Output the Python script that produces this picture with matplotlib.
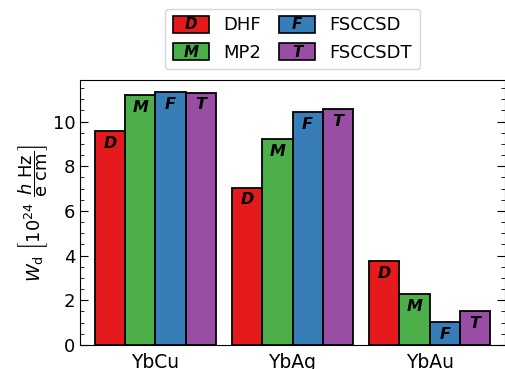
import matplotlib
matplotlib.use('Agg')
import matplotlib.pyplot as plt
import numpy as np
from matplotlib.legend_handler import HandlerPatch
from matplotlib.patches import Rectangle
from matplotlib.text import Text

matplotlib.rcParams['font.family'] = ['DejaVu Sans']
matplotlib.rcParams['mathtext.fontset'] = 'dejavusans'

# 分子体系与方法
molecules = ['YbCu', 'YbAg', 'YbAu']
methods = ['DHF', 'MP2', 'FSCCSD', 'FSCCSDT']
letters = ['D', 'M', 'F', 'T']
colors = ['#e41a1c', '#4daf4a', '#377eb8', '#984ea3']

# W_d 数值 (10^24 h Hz / e cm)
w_dhf = [9.57, 7.04, 3.74]
w_mp2 = [11.19, 9.20, 2.28]
w_fsccsd = [11.33, 10.41, 1.02]
w_fsccsdt = [11.30, 10.56, 1.52]


class LetterHandler(HandlerPatch):
    """图例色块中间写上方法缩写"""

    def __init__(self, letter):
        super().__init__()
        self.letter = letter

    def create_artists(self, legend, orig_handle, xdescent, ydescent,
                       width, height, fontsize, trans):
        rect = Rectangle((-xdescent, -ydescent), width, height,
                         facecolor=orig_handle.get_facecolor(),
                         edgecolor='black', linewidth=1.2, transform=trans)
        txt = Text(-xdescent + width / 2, -ydescent + height / 2 - 0.3, self.letter,
                   ha='center', va='center', fontsize=fontsize * 0.84,
                   fontstyle='italic', fontweight='bold', transform=trans)
        return [rect, txt]


fig = plt.figure(figsize=(5.06, 3.69), dpi=100)
ax = fig.add_axes([80 / 506, 24 / 369, 425 / 506, 265 / 369])

x = np.arange(len(molecules))
width = 0.22
series = [w_dhf, w_mp2, w_fsccsd, w_fsccsdt]
handles = []
for i, vals in enumerate(series):
    pos = x + (i - 1.5) * width
    bars = ax.bar(pos, vals, width, color=colors[i], edgecolor='black',
                  linewidth=1.3, label=methods[i])
    handles.append(bars[0])
    for xp, v in zip(pos, vals):
        ax.text(xp, v - 0.55, letters[i], ha='center', va='center',
                fontsize=11.5, fontstyle='italic', fontweight='bold')

ax.set_xlim(-0.55, 2.55)
ax.set_ylim(0, 11.86)
ax.set_xticks(x)
ax.set_xticklabels(molecules, fontsize=13.5)
ax.set_yticks(np.arange(0, 11, 2))
ax.set_yticks(np.arange(0, 11.86, 0.5), minor=True)
ax.tick_params(axis='y', which='both', direction='in', left=True, right=True,
               labelsize=13)
ax.tick_params(axis='y', which='major', length=6)
ax.tick_params(axis='y', which='minor', length=3)
ax.tick_params(axis='x', length=0, pad=6)

ax.set_ylabel(r'$W_\mathrm{d}\ \left[10^{24}\ \dfrac{h\ \mathrm{Hz}}{\mathrm{e\ cm}}\right]$',
              fontsize=13, labelpad=2)

ax.legend(handles=handles, labels=methods, ncol=2, loc='lower center',
          bbox_to_anchor=(0.5, 1.0), fontsize=13, handleheight=1.05,
          handlelength=2.0, columnspacing=1.0, borderaxespad=0.6,
          handler_map={h: LetterHandler(l) for h, l in zip(handles, letters)})

fig.savefig('out.png', dpi=100)
